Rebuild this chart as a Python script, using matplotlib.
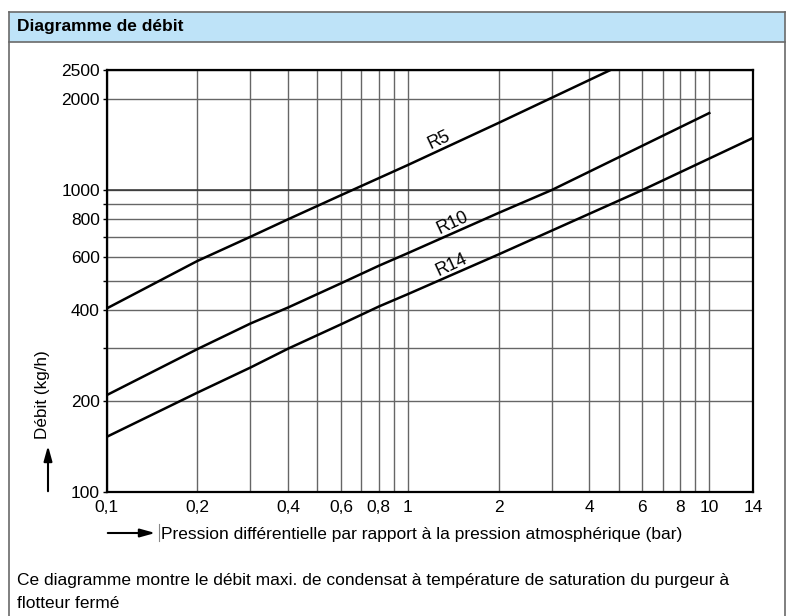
import matplotlib
matplotlib.use('Agg')
import matplotlib.pyplot as plt
from matplotlib.patches import Rectangle
from matplotlib.lines import Line2D

plt.rcParams['font.family'] = ['Liberation Sans', 'DejaVu Sans']

r5_p = [0.1, 0.2, 0.3, 0.4, 0.6, 1, 2, 4.7]
r5_q = [405, 582, 700, 800, 962, 1211, 1670, 2500]
r10_p = [0.1, 0.2, 0.3, 0.4, 0.6, 0.8, 1, 2, 3, 10]
r10_q = [209, 297, 361, 408, 491, 561, 618, 840, 1000, 1800]
r14_p = [0.1, 0.2, 0.3, 0.4, 0.6, 0.8, 1, 2, 6, 14]
r14_q = [152, 213, 258, 298, 359, 411, 452, 612, 1000, 1490]

xtick_vals = [0.1, 0.2, 0.4, 0.6, 0.8, 1, 2, 4, 6, 8, 10, 14]
xtick_labels = ['0,1', '0,2', '0,4', '0,6', '0,8', '1', '2', '4', '6', '8', '10', '14']
xgrid_vals = [0.2, 0.3, 0.4, 0.5, 0.6, 0.7, 0.8, 0.9, 1, 2, 3, 4, 5, 6, 7, 8, 9, 10]
ytick_vals = [100, 200, 400, 600, 800, 1000, 2000, 2500]
ygrid_vals = [200, 300, 400, 500, 600, 700, 800, 900, 1000, 2000]

W, H = 792, 616
def fx(x):
    return x / W
def fy(y):
    return 1 - y / H

fig = plt.figure(figsize=(7.92, 6.16), dpi=100)

# cadre + bandeau
fig.patches.append(Rectangle((fx(9), fy(42)), fx(785) - fx(9), fy(12) - fy(42),
                             transform=fig.transFigure, facecolor='#bee3f8', edgecolor='none'))
for (x0, y0, x1, y1) in [(9, 12, 785, 12), (9, 42, 785, 42), (9, 12, 9, 616), (785, 12, 785, 616)]:
    fig.lines.append(Line2D([fx(x0), fx(x1)], [fy(y0), fy(y1)], transform=fig.transFigure,
                            color='#6a6a6a', lw=1.2))
fig.text(fx(17), fy(27), 'Diagramme de débit', fontsize=12.5, fontweight='bold', va='center', ha='left')

ax = fig.add_axes([fx(106.7), fy(491.7), fx(753.3) - fx(106.7), fy(70) - fy(491.7)])
ax.set_xscale('log')
ax.set_yscale('log')
ax.set_xlim(0.1, 14)
ax.set_ylim(100, 2500)

ax.set_xticks(xtick_vals, xtick_labels)
ax.set_xticks(xgrid_vals, minor=True)
ax.set_yticks(ytick_vals, [str(v) for v in ytick_vals])
ax.set_yticks(ygrid_vals, minor=True)
ax.xaxis.set_minor_formatter(matplotlib.ticker.NullFormatter())
ax.yaxis.set_minor_formatter(matplotlib.ticker.NullFormatter())
ax.tick_params(axis='x', which='both', length=0, labelsize=12.5, pad=6)
ax.tick_params(axis='y', which='both', length=3, width=1, labelsize=12.5, pad=2)
ax.grid(True, which='both', color='#666666', lw=1.0)
ax.axhline(1000, color='#333333', lw=1.1)
for s in ax.spines.values():
    s.set_linewidth(1.6)

ax.plot(r5_p, r5_q, color='black', lw=1.8)
ax.plot(r10_p, r10_q, color='black', lw=1.8)
ax.plot(r14_p, r14_q, color='black', lw=1.8)

ax.text(1.27, 1460, 'R5', rotation=25, ha='center', va='center', fontsize=13)
ax.text(1.41, 778, 'R10', rotation=25, ha='center', va='center', fontsize=13)
ax.text(1.40, 565, 'R14', rotation=25, ha='center', va='center', fontsize=13)

# étiquettes d'axes avec flèches
fig.text(fx(42), fy(395), 'Débit (kg/h)', rotation=90, ha='center', va='center', fontsize=12.3)
ax.annotate('', xy=(fx(48), fy(443)), xytext=(fx(48), fy(494)), xycoords='figure fraction',
            arrowprops=dict(arrowstyle='-|>,head_length=0.9,head_width=0.25', color='black', lw=1.5))
ax.annotate('', xy=(fx(158), fy(533)), xytext=(fx(105), fy(533)), xycoords='figure fraction',
            arrowprops=dict(arrowstyle='-|>,head_length=0.9,head_width=0.25', color='black', lw=1.5))
fig.lines.append(Line2D([fx(159), fx(159)], [fy(524), fy(541)], transform=fig.transFigure,
                        color='#888888', lw=0.8))
fig.text(fx(161), fy(534), 'Pression différentielle par rapport à la pression atmosphérique (bar)',
         ha='left', va='center', fontsize=12.5)

fig.text(fx(17), fy(580), 'Ce diagramme montre le débit maxi. de condensat à température de saturation du purgeur à',
         ha='left', va='center', fontsize=12.55)
fig.text(fx(17), fy(603), 'flotteur fermé', ha='left', va='center', fontsize=12.55)

plt.savefig('out.png', dpi=100)
